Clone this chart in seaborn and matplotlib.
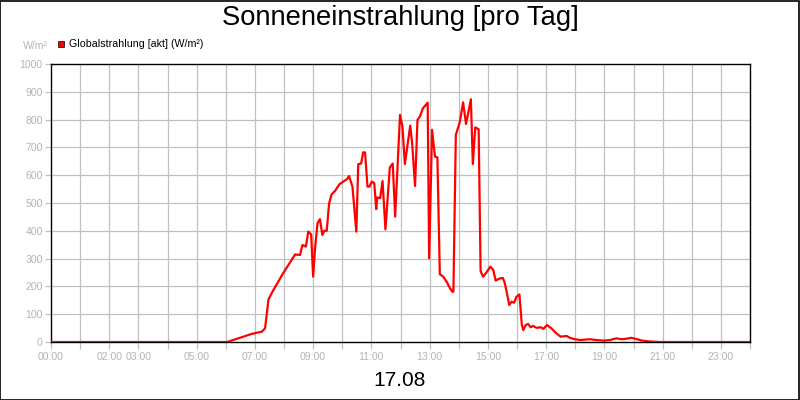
import matplotlib
matplotlib.use("Agg")
import matplotlib.pyplot as plt
import seaborn as sns
import pandas as pd
from matplotlib.patches import Rectangle

# ---- data ----
times = ["00:00", "06:03", "06:15", "06:36", "06:53", "07:14", "07:21", "07:28", "07:35", "07:58",
         "08:23", "08:33", "08:38", "08:45", "08:50", "08:56", "09:00", "09:04", "09:09", "09:14",
         "09:19", "09:23", "09:28", "09:33", "09:38", "09:45", "09:54", "10:02", "10:10", "10:14",
         "10:21", "10:29", "10:33", "10:39", "10:43", "10:47", "10:52", "10:56", "11:01", "11:06",
         "11:10", "11:12", "11:18", "11:23", "11:29", "11:38", "11:44", "11:49", "11:59", "12:04",
         "12:09", "12:20", "12:24", "12:30", "12:35", "12:40", "12:46", "12:56", "12:59", "13:05",
         "13:11", "13:16", "13:21", "13:28", "13:35", "13:42", "13:47", "13:49", "13:54", "14:02",
         "14:09", "14:15", "14:25", "14:29", "14:34", "14:41", "14:45", "14:50", "14:57", "15:05",
         "15:11", "15:16", "15:25", "15:31", "15:35", "15:40", "15:44", "15:49", "15:54", "15:59",
         "16:05", "16:10", "16:13", "16:18", "16:23", "16:28", "16:33", "16:40", "16:49", "16:54",
         "17:02", "17:11", "17:20", "17:30", "17:42", "17:49", "17:59", "18:10", "18:30", "18:44",
         "18:58", "19:12", "19:17", "19:25", "19:36", "19:42", "19:56", "20:07", "20:17", "20:34",
         "20:55", "24:00"]
radiation = [0, 0, 7, 19, 29, 37, 49, 153, 177, 247,
             315, 313, 349, 343, 397, 387, 235, 337, 427, 442,
             385, 400, 400, 499, 531, 543, 567, 577, 586, 597,
             559, 397, 640, 642, 682, 682, 559, 559, 577, 571,
             478, 520, 517, 579, 405, 628, 642, 451, 817, 775,
             640, 778, 715, 561, 799, 811, 840, 861, 301, 763,
             667, 664, 244, 235, 217, 193, 181, 181, 745, 790,
             862, 784, 873, 640, 772, 765, 255, 235, 250, 271,
             260, 221, 229, 230, 211, 169, 133, 145, 141, 163,
             171, 61, 43, 61, 65, 53, 58, 51, 53, 47,
             61, 49, 33, 19, 22, 15, 10, 7, 10, 7,
             5, 7, 10, 13, 10, 11, 15, 10, 5, 2,
             0, 0]
tick_hours = [0, 2, 3, 5, 7, 9, 11, 13, 15, 17, 19, 21, 23]
tick_labels = ["00:00", "02:00", "03:00", "05:00", "07:00", "09:00", "11:00",
               "13:00", "15:00", "17:00", "19:00", "21:00", "23:00"]
y_ticks = [0, 100, 200, 300, 400, 500, 600, 700, 800, 900, 1000]

title = "Sonneneinstrahlung [pro Tag]"
date_label = "17.08"
series_name = "Globalstrahlung [akt] (W/m²)"
unit = "W/m²"

def to_hours(t):
    hh, mm = t.split(":")
    return int(hh) + int(mm) / 60.0

df = pd.DataFrame({"hour": [to_hours(t) for t in times], "value": radiation})

sns.set_style("white")
plt.rcParams["font.family"] = ["Liberation Sans", "DejaVu Sans"]

fig = plt.figure(figsize=(8, 4), dpi=100)
ax = fig.add_axes([51 / 800, 1 - 342 / 400, 699 / 800, (342 - 64) / 400])

grid_c = "#c0c0c0"
txt_c = "#b4b4b4"

for h in range(1, 24):
    ax.axvline(h, color=grid_c, lw=0.9, zorder=0)
for v in y_ticks[1:-1]:
    ax.axhline(v, color=grid_c, lw=0.9, zorder=0)

sns.lineplot(data=df, x="hour", y="value", color="#ff0000", lw=1.6, ax=ax,
             zorder=3, legend=False)

ax.set_xlim(0, 24)
ax.set_ylim(0, 1000)
ax.set_xticks(range(0, 25))
lab_map = dict(zip(tick_hours, tick_labels))
ax.set_xticklabels([lab_map.get(h, "") for h in range(0, 25)])
ax.set_yticks(y_ticks)
ax.set_yticklabels([str(v) for v in y_ticks])
ax.tick_params(axis="x", colors=grid_c, labelcolor=txt_c, length=5, width=0.9,
               labelsize=7.6, pad=2, direction="out", bottom=True)
ax.tick_params(axis="y", colors=grid_c, labelcolor=txt_c, length=4, width=0.9,
               labelsize=7.6, pad=2, direction="out", left=True)
ax.set_xlabel("")
ax.set_ylabel("")
for s in ax.spines.values():
    s.set_color("black")
    s.set_linewidth(1.0)
    s.set_visible(True)

fig.text(0.5, 1 - 18 / 400, title, ha="center", va="center", fontsize=19.7, color="black")
fig.text(0.5, 1 - 380 / 400, date_label, ha="center", va="center", fontsize=15, color="black")
fig.text(48 / 800, 1 - 46 / 400, unit, ha="right", va="center", fontsize=7.6, color=txt_c)
fig.patches.append(Rectangle((58 / 800, 1 - 47 / 400), 6 / 800, 6 / 400,
                             transform=fig.transFigure, facecolor="#ff0000",
                             edgecolor="black", lw=0.5))
fig.text(69 / 800, 1 - 44 / 400, series_name, ha="left", va="center", fontsize=7.7, color="black")
fig.patches.append(Rectangle((0.0006, 0.0012), 0.998, 0.9975, transform=fig.transFigure,
                             fill=False, edgecolor="black", lw=1.2))

fig.savefig("out.png", dpi=100)
